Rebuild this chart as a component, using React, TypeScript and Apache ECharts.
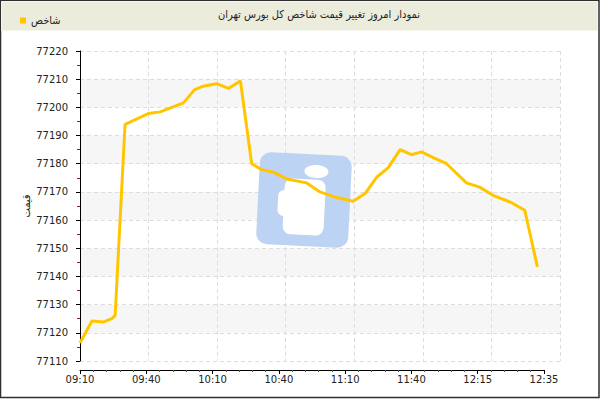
import React, { useEffect, useRef } from "react";
import * as echarts from "echarts";

const titleText = "نمودار امروز تغییر قیمت شاخص کل بورس تهران";
const seriesName = "شاخص";
const yAxisName = "قیمت";
const xTickLabels = ["09:10", "09:40", "10:10", "10:40", "11:10", "11:40", "12:15", "12:35"];
const yMin = 77110;
const yMax = 77220;
const yStep = 10;

// position along the time axis (sample index) and index value at each bend
const pointIndex = [
  0, 1.8, 3.5, 4.8, 5.3, 6.8, 10.3, 12.1, 15.6, 17.3, 18.6, 20.6, 22.4, 24.2,
  25.9, 27.4, 29.2, 31.2, 34.2, 36.2, 38.7, 41.2, 43.0, 44.8, 46.5, 48.3, 50.0,
  51.5, 53.3, 55.3, 58.3, 60.3, 62.3, 64.9, 67.1, 69.0,
];
const indexValues = [
  77116.4, 77124.2, 77123.8, 77125.0, 77126.2, 77194.0, 77197.8, 77198.4,
  77201.6, 77206.3, 77207.5, 77208.4, 77206.7, 77209.4, 77180.0, 77177.9,
  77177.0, 77174.6, 77173.2, 77170.0, 77168.0, 77166.7, 77169.4, 77175.3,
  77178.6, 77185.0, 77183.2, 77184.2, 77182.2, 77180.0, 77173.2, 77171.7,
  77168.8, 77166.4, 77163.5, 77143.4,
];

const FONT = "DejaVu Sans";
const FONT_C = "DejaVu Sans Condensed";

export default function App() {
  const ref = useRef<HTMLDivElement>(null);
  useEffect(() => {
    if (!ref.current) return;
    const chart = echarts.init(ref.current, undefined, { renderer: "svg" });
    const lastTick = (xTickLabels.length - 1) * 10;
    chart.setOption({
      animation: false,
      backgroundColor: "#ffffff",
      textStyle: { fontFamily: FONT },
      legend: {
        data: [{ name: seriesName, icon: "rect" }],
        left: 15,
        top: 10,
        itemWidth: 6,
        itemHeight: 6,
        itemGap: 4,
        textStyle: { fontSize: 11, color: "#222", fontFamily: FONT_C },
      },
      grid: [
        { left: 80, right: 40, top: 51, bottom: 39 },
        { left: 80, right: 56, top: 51, bottom: 39 },
      ],
      xAxis: [
        {
          type: "value",
          gridIndex: 0,
          min: 0,
          max: 7,
          interval: 1,
          axisLine: { show: false },
          axisTick: { show: false },
          axisLabel: { show: false },
          splitLine: { show: true, lineStyle: { color: "#dddddd", type: [4, 3], width: 1 } },
        },
        {
          type: "value",
          gridIndex: 1,
          min: 0,
          max: lastTick,
          interval: 10,
          offset: 9,
          axisLine: { show: true, lineStyle: { color: "#000", width: 1 } },
          axisTick: { show: true, length: 4, lineStyle: { color: "#000" } },
          minorTick: { show: true, splitNumber: 5, length: 2, lineStyle: { color: "#555" } },
          axisLabel: {
            fontSize: 10,
            color: "#222",
            fontFamily: FONT,
            margin: 4,
            formatter: (v: number) => xTickLabels[Math.round(v / 10)] ?? "",
          },
          splitLine: { show: false },
        },
      ],
      yAxis: [
        {
          type: "value",
          gridIndex: 0,
          min: yMin,
          max: yMax,
          interval: yStep,
          axisLine: { show: false },
          axisTick: { show: false },
          axisLabel: { show: false },
          splitLine: { show: true, lineStyle: { color: "#dddddd", type: [4, 3], width: 1 } },
          splitArea: { show: true, areaStyle: { color: ["rgba(255,255,255,0)", "#f6f6f6"] } },
        },
        {
          type: "value",
          gridIndex: 1,
          min: yMin,
          max: yMax,
          interval: yStep,
          offset: 10,
          name: yAxisName,
          nameLocation: "middle",
          nameGap: 38,
          nameRotate: 90,
          nameMoveOverlap: false,
          nameTextStyle: { fontSize: 11, color: "#222", fontFamily: FONT_C },
          axisLine: { show: true, lineStyle: { color: "#000", width: 1 } },
          axisTick: { show: true, length: 4, lineStyle: { color: "#000" } },
          minorTick: { show: true, splitNumber: 2, length: 3, lineStyle: { color: "#8b1a1a" } },
          axisLabel: {
            fontSize: 10,
            color: "#222",
            fontFamily: FONT,
            margin: 2,
            formatter: (v: number) => String(v),
          },
          splitLine: { show: false },
        },
      ],
      graphic: [
        {
          type: "rect",
          z: -10,
          shape: { x: 0.5, y: 0.5, width: 598.5, height: 397 },
          style: { fill: "#ffffff", stroke: "#2e2e2e", lineWidth: 1.5 },
        },
        {
          type: "rect",
          z: -5,
          shape: { x: 1.5, y: 1.5, width: 596, height: 29 },
          style: { fill: "#ececdc", stroke: "#f6f6ee", lineWidth: 1 },
        },
        {
          type: "text",
          z: 10,
          left: 218,
          top: 9,
          style: { text: titleText, fontSize: 11, fontFamily: FONT_C, fill: "#222" },
        },
        {
          type: "group",
          x: 304,
          y: 200,
          rotation: -0.05,
          z: 4,
          children: [
            {
              type: "rect",
              z: 4,
              shape: { x: -46, y: -46, width: 92, height: 92, r: 11 },
              style: { fill: "#bdd3f3" },
            },
            {
              type: "ellipse",
              z: 4,
              shape: { cx: 11, cy: -29, rx: 12, ry: 6.5 },
              style: { fill: "#ffffff" },
            },
            {
              type: "rect",
              z: 4,
              shape: { x: -20, y: -21, width: 41, height: 56, r: 8 },
              style: { fill: "#ffffff" },
            },
            {
              type: "rect",
              z: 4,
              shape: { x: -26, y: -9, width: 14, height: 26, r: 6 },
              style: { fill: "#ffffff" },
            },
          ],
        },
      ],
      series: [
        {
          name: seriesName,
          type: "line",
          xAxisIndex: 1,
          yAxisIndex: 1,
          showSymbol: false,
          symbol: "none",
          z: 5,
          color: "#ffc600",
          lineStyle: { color: "#ffc600", width: 3 },
          data: pointIndex.map((x, i) => [x, indexValues[i]]),
        },
      ],
    });
    return () => chart.dispose();
  }, []);
  return (
    <div
      ref={ref}
      style={{ position: "fixed", left: 0, top: 0, width: 600, height: 400 }}
    />
  );
}
